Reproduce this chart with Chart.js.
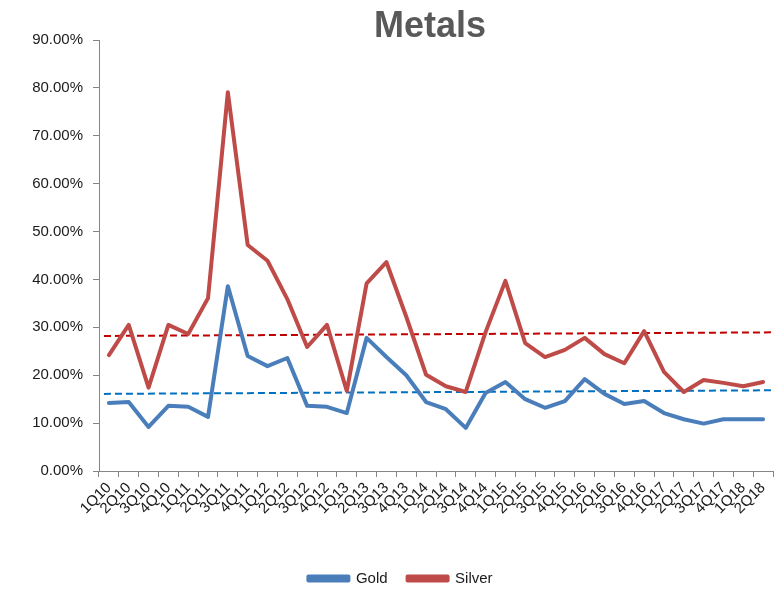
<!DOCTYPE html>
<html>
<head>
<meta charset="utf-8">
<script src="https://cdn.jsdelivr.net/npm/chart.js@4.4.1/dist/chart.umd.min.js"></script>
<style>
  html, body { margin: 0; padding: 0; background: #ffffff; }
  #wrap { width: 774px; height: 589px; position: relative; }
</style>
</head>
<body>
<div id="wrap"><canvas id="c" width="774" height="589"></canvas></div>
<script>
// Quarterly volatility of precious metals, in percent
const quarters = [
  '1Q10','2Q10','3Q10','4Q10','1Q11','2Q11','3Q11','4Q11','1Q12','2Q12','3Q12','4Q12',
  '1Q13','2Q13','3Q13','4Q13','1Q14','2Q14','3Q14','4Q14','1Q15','2Q15','3Q15','4Q15',
  '1Q16','2Q16','3Q16','4Q16','1Q17','2Q17','3Q17','4Q17','1Q18','2Q18'
];
const gold = [
  14.2, 14.4, 9.2, 13.6, 13.4, 11.3, 38.6, 24.0, 21.9, 23.6, 13.6, 13.4,
  12.1, 27.8, 23.8, 20.0, 14.4, 12.9, 9.0, 16.3, 18.6, 15.0, 13.2, 14.6,
  19.2, 16.1, 14.0, 14.6, 12.1, 10.8, 9.9, 10.8, 10.8, 10.8
];
const silver = [
  24.2, 30.5, 17.4, 30.5, 28.6, 36.1, 79.1, 47.2, 43.9, 35.9, 25.9, 30.5,
  16.7, 39.2, 43.6, 32.2, 20.1, 17.7, 16.5, 29.0, 39.7, 26.7, 23.8, 25.3,
  27.8, 24.4, 22.5, 29.2, 20.7, 16.5, 19.0, 18.4, 17.7, 18.6
];
// Linear trend lines: value at the left and right end of the plot
const goldTrend = [16.1, 16.85];
const silverTrend = [28.2, 28.95];
const yTicks = [0, 10, 20, 30, 40, 50, 60, 70, 80, 90];

const trendX = [-0.25, quarters.length - 0.55];
const toTrend = (ends) => ends.map((v, i) => ({ x: trendX[i], y: v }));

const FONT = "'Liberation Sans', Arial, sans-serif";
const AXIS = '#868686';

// Chart heading, centred over the plot area
const headingPlugin = {
  id: 'heading',
  afterDraw(chart) {
    const { ctx, chartArea } = chart;
    ctx.save();
    ctx.font = "bold 36px " + FONT;
    ctx.fillStyle = '#595959';
    ctx.textAlign = 'center';
    ctx.textBaseline = 'alphabetic';
    ctx.fillText('Metals', (chartArea.left + chartArea.right) / 2 - 6, 37);
    ctx.restore();
  }
};

new Chart(document.getElementById('c'), {
  type: 'line',
  data: {
    labels: quarters,
    datasets: [
      { label: 'Gold', data: gold, borderColor: '#4a7ebb', backgroundColor: '#4a7ebb',
        borderWidth: 4, pointRadius: 0, tension: 0, borderJoinStyle: 'round', borderCapStyle: 'round' },
      { label: 'Silver', data: silver, borderColor: '#be4b48', backgroundColor: '#be4b48',
        borderWidth: 4, pointRadius: 0, tension: 0, borderJoinStyle: 'round', borderCapStyle: 'round' },
      { label: 'Gold trend', data: toTrend(goldTrend), xAxisID: 'xt', borderColor: '#0070c0',
        borderWidth: 2, borderDash: [7, 4], pointRadius: 0, tension: 0 },
      { label: 'Silver trend', data: toTrend(silverTrend), xAxisID: 'xt', borderColor: '#c00000',
        borderWidth: 2, borderDash: [7, 4], pointRadius: 0, tension: 0 }
    ]
  },
  options: {
    responsive: false,
    animation: false,
    events: [],
    layout: { padding: { top: 40, left: 28, right: 1, bottom: -7 } },
    scales: {
      x: {
        type: 'category',
        offset: true,
        grid: { offset: true, drawOnChartArea: false, color: AXIS, tickLength: 6, lineWidth: 1 },
        border: { color: AXIS, width: 1 },
        ticks: { color: '#1a1a1a', font: { family: FONT, size: 15 }, minRotation: 45, maxRotation: 45,
                 autoSkip: false, padding: 2 },
        afterFit(scale) { scale.height = 80; scale.paddingRight = 0; }
      },
      xt: {
        type: 'linear',
        display: false,
        min: -0.5,
        max: quarters.length - 0.5
      },
      y: {
        min: yTicks[0],
        max: yTicks[yTicks.length - 1],
        afterBuildTicks(scale) { scale.ticks = yTicks.map(v => ({ value: v })); },
        grid: { drawOnChartArea: false, color: AXIS, tickLength: 6 },
        border: { color: AXIS, width: 1 },
        ticks: { color: '#1a1a1a', font: { family: FONT, size: 15 }, padding: 10,
                 callback: (v) => Number(v).toFixed(2) + '%' },
        afterFit(scale) { scale.width = 71; }
      }
    },
    plugins: {
      title: { display: false },
      tooltip: { enabled: false },
      legend: {
        position: 'bottom',
        labels: {
          boxWidth: 40, boxHeight: 4, padding: 20,
          color: '#1a1a1a', font: { family: FONT, size: 15 },
          filter: (item) => item.datasetIndex < 2
        }
      }
    }
  },
  plugins: [headingPlugin]
});
</script>
</body>
</html>
